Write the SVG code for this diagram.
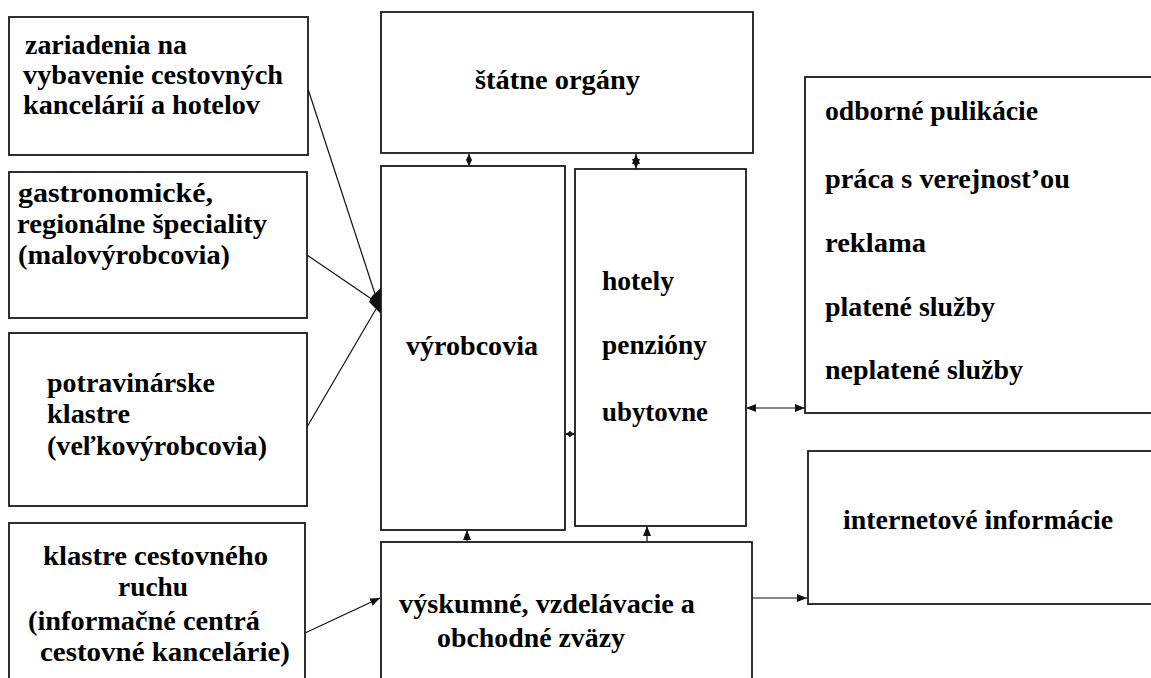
<svg xmlns="http://www.w3.org/2000/svg" width="1151" height="678" viewBox="0 0 1151 678">
<style>
.box{fill:#fff;stroke:#1a1a1a;stroke-width:1.8}
.t{font-family:"Liberation Serif","DejaVu Serif",serif;font-weight:bold;font-size:27px;fill:#000}
.c{stroke:#111;stroke-width:1.2;fill:none}
</style>
<defs>
<marker id="ah" viewBox="0 0 10 10" refX="10" refY="5" markerWidth="10" markerHeight="10" markerUnits="userSpaceOnUse" orient="auto-start-reverse"><path d="M0,1 L10,5 L0,9 Z" fill="#111"/></marker>
<marker id="as" viewBox="0 0 10 10" refX="10" refY="5" markerWidth="6" markerHeight="7" markerUnits="userSpaceOnUse" orient="auto-start-reverse"><path d="M0,0 L10,5 L0,10 Z" fill="#111"/></marker>
</defs>
<rect width="1151" height="678" fill="#fff"/>
<g id="connectors">
<line class="c" x1="308" y1="89" x2="376" y2="297"/>
<line class="c" x1="307" y1="255" x2="373" y2="300"/>
<line class="c" x1="307" y1="427" x2="376" y2="309"/>
<path d="M381,288 L372,296 L369,302 L374,307 L381,314 Z" fill="#111"/>
<line class="c" x1="305" y1="633" x2="380" y2="598" marker-end="url(#ah)"/>
<line class="c" x1="469" y1="154" x2="469" y2="166" marker-start="url(#as)" marker-end="url(#as)"/>
<line class="c" x1="636" y1="154" x2="636" y2="169" marker-start="url(#ah)" marker-end="url(#ah)"/>
<line class="c" x1="565" y1="434" x2="575" y2="434" marker-start="url(#as)" marker-end="url(#as)"/>
<line class="c" x1="467" y1="542" x2="467" y2="530" marker-end="url(#ah)"/>
<line class="c" x1="647" y1="542" x2="647" y2="526" marker-end="url(#ah)"/>
<line class="c" x1="746" y1="408" x2="805" y2="408" marker-start="url(#ah)" marker-end="url(#ah)"/>
<line class="c" x1="752" y1="598" x2="807" y2="598" marker-end="url(#ah)"/>
</g>
<g id="n1">
<rect class="box" x="9" y="17" width="299" height="138"/>
<text class="t" x="25" y="54" textLength="162" lengthAdjust="spacingAndGlyphs">zariadenia na</text>
<text class="t" x="23" y="84" textLength="260" lengthAdjust="spacingAndGlyphs">vybavenie cestovných</text>
<text class="t" x="23" y="114" textLength="237" lengthAdjust="spacingAndGlyphs">kancelárií a hotelov</text>
</g>
<g id="n2">
<rect class="box" x="9" y="172" width="298" height="146"/>
<text class="t" x="18" y="202" textLength="195" lengthAdjust="spacingAndGlyphs">gastronomické,</text>
<text class="t" x="17" y="233" textLength="250" lengthAdjust="spacingAndGlyphs">regionálne špeciality</text>
<text class="t" x="18" y="264" textLength="212" lengthAdjust="spacingAndGlyphs">(malovýrobcovia)</text>
</g>
<g id="n3">
<rect class="box" x="9" y="333" width="298" height="173"/>
<text class="t" x="47" y="392" textLength="168" lengthAdjust="spacingAndGlyphs">potravinárske</text>
<text class="t" x="47" y="423" textLength="83" lengthAdjust="spacingAndGlyphs">klastre</text>
<text class="t" x="47" y="455" textLength="220" lengthAdjust="spacingAndGlyphs">(veľkovýrobcovia)</text>
</g>
<g id="n4">
<rect class="box" x="9" y="523" width="296" height="170"/>
<text class="t" x="43" y="565" textLength="225" lengthAdjust="spacingAndGlyphs">klastre cestovného</text>
<text class="t" x="118" y="596" textLength="70" lengthAdjust="spacingAndGlyphs">ruchu</text>
<text class="t" x="28" y="630" textLength="232" lengthAdjust="spacingAndGlyphs">(informačné centrá</text>
<text class="t" x="40" y="661" textLength="250" lengthAdjust="spacingAndGlyphs">cestovné kancelárie)</text>
</g>
<g id="n5">
<rect class="box" x="381" y="12" width="372" height="141"/>
<text class="t" x="475" y="89" textLength="165" lengthAdjust="spacingAndGlyphs">štátne orgány</text>
</g>
<g id="n6">
<rect class="box" x="381" y="166" width="184" height="364"/>
<text class="t" x="406" y="355" textLength="132" lengthAdjust="spacingAndGlyphs">výrobcovia</text>
</g>
<g id="n7">
<rect class="box" x="575" y="169" width="171" height="357"/>
<text class="t" x="602" y="290" textLength="72" lengthAdjust="spacingAndGlyphs">hotely</text>
<text class="t" x="602" y="354" textLength="105" lengthAdjust="spacingAndGlyphs">penzióny</text>
<text class="t" x="602" y="421" textLength="106" lengthAdjust="spacingAndGlyphs">ubytovne</text>
</g>
<g id="n8">
<rect class="box" x="381" y="542" width="371" height="150"/>
<text class="t" x="399" y="613" textLength="296" lengthAdjust="spacingAndGlyphs">výskumné, vzdelávacie a</text>
<text class="t" x="437" y="647" textLength="188" lengthAdjust="spacingAndGlyphs">obchodné zväzy</text>
</g>
<g id="n9">
<rect class="box" x="805" y="77" width="360" height="336"/>
<text class="t" x="825" y="120" textLength="213" lengthAdjust="spacingAndGlyphs">odborné pulikácie</text>
<text class="t" x="825" y="188" textLength="245" lengthAdjust="spacingAndGlyphs">práca s verejnost’ou</text>
<text class="t" x="825" y="252" textLength="101" lengthAdjust="spacingAndGlyphs">reklama</text>
<text class="t" x="825" y="316" textLength="170" lengthAdjust="spacingAndGlyphs">platené služby</text>
<text class="t" x="825" y="379" textLength="198" lengthAdjust="spacingAndGlyphs">neplatené služby</text>
</g>
<g id="n10">
<rect class="box" x="808" y="451" width="360" height="153"/>
<text class="t" x="843" y="529" textLength="270" lengthAdjust="spacingAndGlyphs">internetové informácie</text>
</g>
</svg>
